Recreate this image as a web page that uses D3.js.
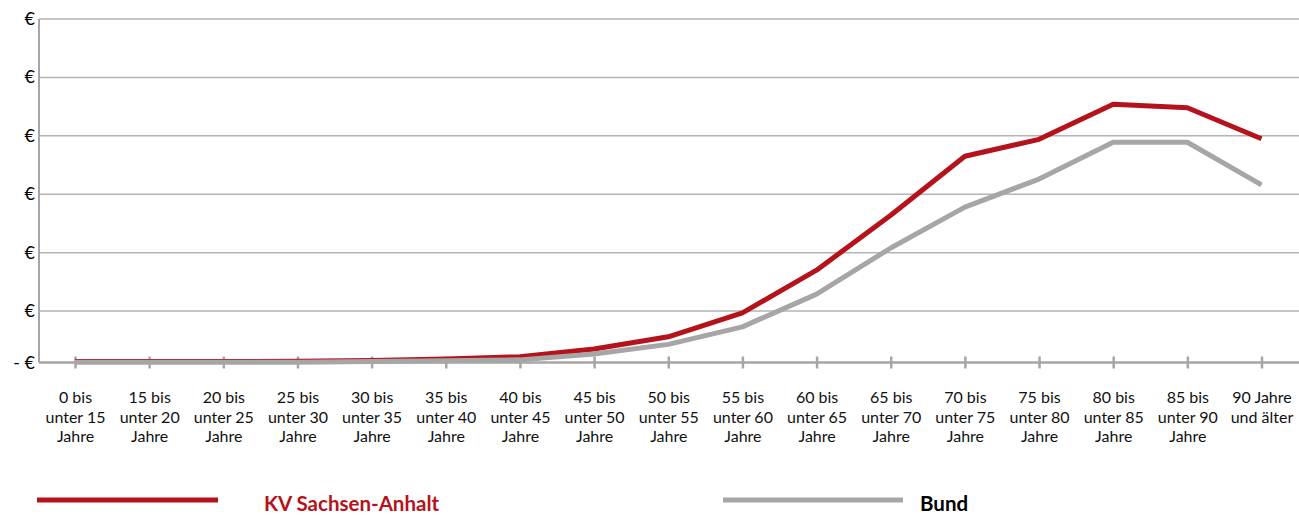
<!DOCTYPE html>
<html>
<head>
<meta charset="utf-8">
<script src="https://cdnjs.cloudflare.com/ajax/libs/d3/7.8.5/d3.min.js"></script>
<style>
  html, body { margin: 0; padding: 0; background: #fff; }
  svg { display: block; }
  text { font-family: Lato, "Open Sans", sans-serif; }
</style>
</head>
<body>
<svg id="chart" width="1299" height="515"></svg>
<script>
// ---------------------------------------------------------------------------
// Data (arbitrary euro units)
// ---------------------------------------------------------------------------
const categories = [
  ["0 bis", "unter 15", "Jahre"],
  ["15 bis", "unter 20", "Jahre"],
  ["20 bis", "unter 25", "Jahre"],
  ["25 bis", "unter 30", "Jahre"],
  ["30 bis", "unter 35", "Jahre"],
  ["35 bis", "unter 40", "Jahre"],
  ["40 bis", "unter 45", "Jahre"],
  ["45 bis", "unter 50", "Jahre"],
  ["50 bis", "unter 55", "Jahre"],
  ["55 bis", "unter 60", "Jahre"],
  ["60 bis", "unter 65", "Jahre"],
  ["65 bis", "unter 70", "Jahre"],
  ["70 bis", "unter 75", "Jahre"],
  ["75 bis", "unter 80", "Jahre"],
  ["80 bis", "unter 85", "Jahre"],
  ["85 bis", "unter 90", "Jahre"],
  ["90 Jahre", "und älter"]
];

const kvSachsenAnhalt = [1.7, 1.7, 1.7, 2, 3.4, 6, 10, 23, 44, 85, 158, 252, 353, 382, 442, 436, 383];
const bund            = [0.3, 0.3, 0.3, 0.5, 1.5, 3, 4.5, 14.5, 31, 61, 117, 196, 266, 314, 377, 377, 304];

const yTicks      = [0, 88, 188, 288, 388, 488, 588];
const yTickLabels = ["- €", "€", "€", "€", "€", "€", "€"];

const seriesNames = ["KV Sachsen-Anhalt", "Bund"];

// ---------------------------------------------------------------------------
// Layout
// ---------------------------------------------------------------------------
const RED = "#b5121b";
const GREY = "#a6a6a6";
const GRID = "#b3b3b3";

const svg = d3.select("#chart");
const plotLeft = 39, plotRight = 1299, plotTop = 19, plotBottom = 362.5;

const x = d3.scalePoint()
  .domain(d3.range(categories.length))
  .range([75, 1261.5]);

const y = d3.scaleLinear()
  .domain([0, 588])
  .range([plotBottom, plotTop]);

// gridlines
svg.append("g")
  .selectAll("line")
  .data(yTicks.slice(1))
  .join("line")
  .attr("x1", plotLeft).attr("x2", plotRight)
  .attr("y1", d => y(d)).attr("y2", d => y(d))
  .attr("stroke", GRID)
  .attr("stroke-width", 1.5);

// y axis line + labels
svg.append("line")
  .attr("x1", plotLeft).attr("x2", plotLeft)
  .attr("y1", plotTop).attr("y2", plotBottom)
  .attr("stroke", GREY).attr("stroke-width", 2);

svg.append("g")
  .selectAll("text")
  .data(yTicks)
  .join("text")
  .attr("x", 35)
  .attr("y", d => y(d) + 6)
  .attr("text-anchor", "end")
  .attr("font-size", 18)
  .attr("fill", "#000")
  .text((d, i) => yTickLabels[i]);

// x axis
const xAxis = d3.axisBottom(x)
  .tickSize(0)
  .tickFormat("");
const gx = svg.append("g")
  .attr("transform", `translate(0,${plotBottom})`)
  .call(xAxis);
gx.select(".domain").remove();
gx.append("line")
  .attr("x1", plotLeft).attr("x2", plotRight)
  .attr("stroke", GREY).attr("stroke-width", 2.5);
gx.selectAll(".tick").append("line")
  .attr("y1", -6).attr("y2", 6)
  .attr("stroke", GREY).attr("stroke-width", 2.5);

// multi-line category labels
gx.selectAll(".tick text").remove();
gx.selectAll(".tick").each(function (d) {
  const t = d3.select(this).append("text")
    .attr("text-anchor", "middle")
    .attr("font-size", 16)
    .attr("fill", "#111");
  categories[d].forEach((line, i) => {
    t.append("tspan").attr("x", 0).attr("y", 40.5 + i * 19.5).text(line);
  });
});

// lines
const line = d3.line()
  .x((d, i) => x(i))
  .y(d => y(d));

svg.append("path")
  .datum(kvSachsenAnhalt)
  .attr("d", line)
  .attr("fill", "none")
  .attr("stroke", RED)
  .attr("stroke-width", 5)
  .attr("stroke-linejoin", "round");

svg.append("path")
  .datum(bund)
  .attr("d", line)
  .attr("fill", "none")
  .attr("stroke", GREY)
  .attr("stroke-width", 5)
  .attr("stroke-linejoin", "round");

// legend
const legend = [
  { name: seriesNames[0], color: RED, x1: 37, x2: 218, tx: 264, textColor: RED },
  { name: seriesNames[1], color: GREY, x1: 723, x2: 903, tx: 920, textColor: "#000" }
];
const lg = svg.append("g");
legend.forEach(l => {
  lg.append("line")
    .attr("x1", l.x1).attr("x2", l.x2)
    .attr("y1", 500).attr("y2", 500)
    .attr("stroke", l.color).attr("stroke-width", 5);
  lg.append("text")
    .attr("x", l.tx).attr("y", 511)
    .attr("font-size", 20.5)
    .attr("font-weight", "bold")
    .attr("fill", l.textColor)
    .text(l.name);
});
</script>
</body>
</html>
